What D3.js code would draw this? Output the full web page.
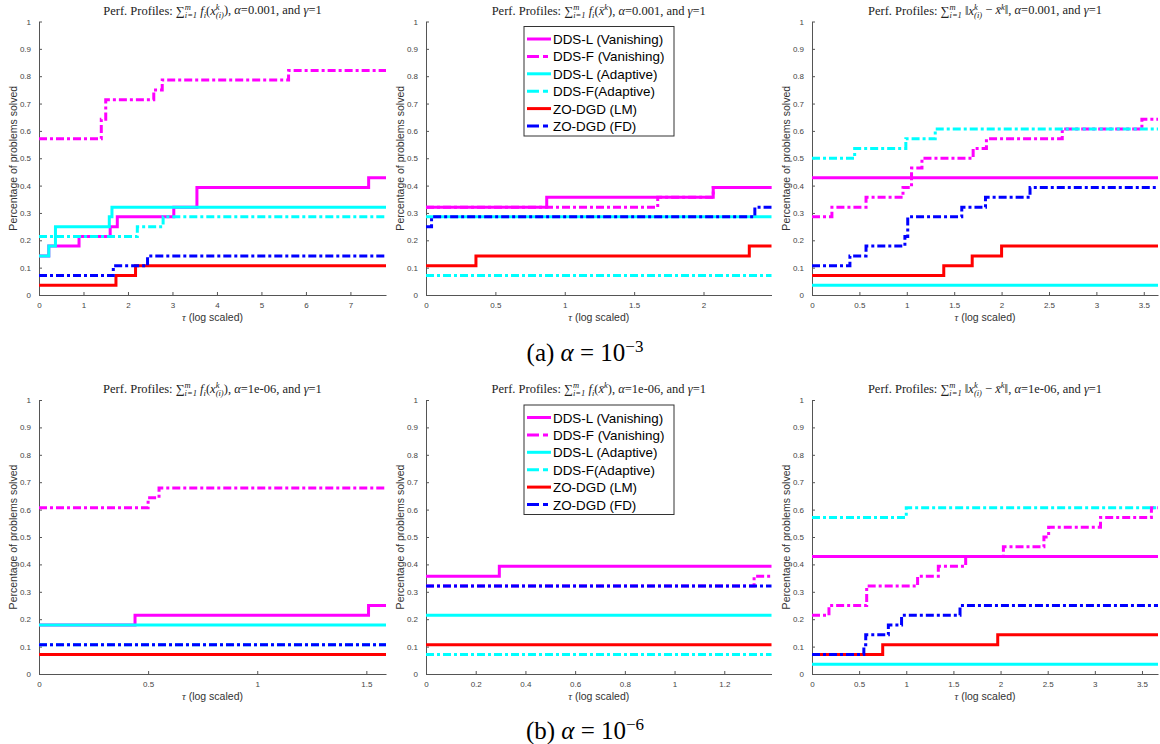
<!DOCTYPE html>
<html>
<head>
<meta charset="utf-8">
<script src="https://cdn.jsdelivr.net/npm/d3@7"></script>
<style>
  body { margin: 0; background: #fff; }
  svg { display: block; }
  .tick-label { font-family: "Liberation Sans", Arial, sans-serif; font-size: 8px; fill: #444; }
  .axis-title { font-family: "Liberation Sans", Arial, sans-serif; font-size: 10.5px; fill: #333; }
  .plot-title { font-family: "Liberation Serif", "DejaVu Serif", serif; font-size: 12.5px; fill: #222; }
  .caption { font-family: "Liberation Serif", "DejaVu Serif", serif; font-size: 25px; fill: #000; }
  .legend-text { font-family: "Liberation Sans", Arial, sans-serif; font-size: 13.4px; fill: #000; }
</style>
</head>
<body>
<svg id="chart" width="1160" height="744"></svg>
<script>
// series names, in drawing order
const seriesNames = ['DDS-L (Vanishing)', 'DDS-F (Vanishing)', 'DDS-L (Adaptive)', 'DDS-F(Adaptive)', 'ZO-DGD (LM)', 'ZO-DGD (FD)'];

// step profiles: [tau, fraction solved] for each series (same order as seriesNames)
// (a) alpha = 1e-3
const a1Data = [
    [[0, 0.143], [0.22, 0.179], [0.9, 0.214], [1.6, 0.25], [1.76, 0.286], [3.03, 0.321], [3.55, 0.393], [7.41, 0.429]],
    [[0, 0.571], [1.4, 0.643], [1.5, 0.714], [2.58, 0.75], [2.77, 0.786], [5.61, 0.821]],
    [[0, 0.143], [0.22, 0.179], [0.37, 0.25], [1.58, 0.286], [1.64, 0.321]],
    [[0, 0.214], [2.21, 0.25], [2.79, 0.286]],
    [[0, 0.036], [1.73, 0.071], [2.17, 0.107]],
    [[0, 0.071], [1.67, 0.107], [2.44, 0.143]]
];
const a2Data = [
    [[0, 0.321], [0.87, 0.357], [2.07, 0.393]],
    [[0, 0.321], [1.67, 0.357], [2.07, 0.393]],
    [[0, 0.286]],
    [[0, 0.071]],
    [[0, 0.107], [0.36, 0.143], [2.33, 0.179]],
    [[0, 0.25], [0.04, 0.286], [2.37, 0.321]]
];
const a3Data = [
    [[0, 0.429]],
    [[0, 0.286], [0.21, 0.321], [0.57, 0.357], [0.96, 0.393], [1.05, 0.464], [1.16, 0.5], [1.7, 0.536], [1.84, 0.571], [2.64, 0.607], [3.48, 0.643]],
    [[0, 0.036]],
    [[0, 0.5], [0.45, 0.536], [0.99, 0.571], [1.3, 0.607]],
    [[0, 0.071], [1.39, 0.107], [1.69, 0.143], [2.0, 0.179]],
    [[0, 0.107], [0.4, 0.143], [0.57, 0.179], [0.98, 0.214], [1.01, 0.286], [1.58, 0.321], [1.83, 0.357], [2.3, 0.393]]
];
// (b) alpha = 1e-6
const b1Data = [
    [[0, 0.179], [0.44, 0.214], [1.51, 0.25]],
    [[0, 0.607], [0.5, 0.643], [0.55, 0.679]],
    [[0, 0.179]],
    [[0, 0.107]],
    [[0, 0.071]],
    [[0, 0.107]]
];
const b2Data = [
    [[0, 0.357], [0.295, 0.393]],
    [[0, 0.321], [1.32, 0.357]],
    [[0, 0.214]],
    [[0, 0.071]],
    [[0, 0.107]],
    [[0, 0.321]]
];
const b3Data = [
    [[0, 0.429]],
    [[0, 0.214], [0.18, 0.25], [0.58, 0.321], [1.12, 0.357], [1.34, 0.393], [1.63, 0.429], [2.03, 0.464], [2.46, 0.5], [2.51, 0.536], [3.06, 0.571], [3.6, 0.607]],
    [[0, 0.036]],
    [[0, 0.571], [1.0, 0.607]],
    [[0, 0.071], [0.75, 0.107], [1.97, 0.143]],
    [[0, 0.071], [0.55, 0.107], [0.57, 0.143], [0.81, 0.179], [0.95, 0.214], [1.57, 0.25]]
];

// axis limits and ticks
const xMaxes = [7.8, 2.49, 3.65, 1.59, 1.39, 3.67];
const xTicks = [
    [0, 1, 2, 3, 4, 5, 6, 7],
    [0, 0.5, 1, 1.5, 2],
    [0, 0.5, 1, 1.5, 2, 2.5, 3, 3.5],
    [0, 0.5, 1, 1.5],
    [0, 0.2, 0.4, 0.6, 0.8, 1, 1.2],
    [0, 0.5, 1, 1.5, 2, 2.5, 3, 3.5]
];
const yTicks = [0, 0.1, 0.2, 0.3, 0.4, 0.5, 0.6, 0.7, 0.8, 0.9, 1];
const alphaLabels = ['0.001', '1e-06'];
const captionExps = ['\u22123', '\u22126'];
const captionTags = ['(a)', '(b)'];

// styles
const lineColors = ['#ff00ff', '#ff00ff', '#00ffff', '#00ffff', '#ff0000', '#0000ff'];
const lineDash = [null, '8,3,3,3', null, '8,3,3,3', null, '8,3,3,3'];

const svg = d3.select('#chart');
const colLeft = [39, 426, 812];
const colRight = [386, 771.5, 1158];
const rowTop = [21.5, 400];
const rowBottom = [295, 674];
const allData = [a1Data, a2Data, a3Data, b1Data, b2Data, b3Data];

// builds a line of text from runs; scripts may be stacked (sup over sub)
function mathText(g, x, y, cls, parts, small) {
    let t = g.append('text').attr('class', cls).attr('x', x).attr('y', y).attr('text-anchor', 'middle');
    let pdx = 0, pdy = 0;
    function run(txt) {
        let ts = t.append('tspan').text(txt);
        if (pdx) ts.attr('dx', pdx);
        if (pdy) ts.attr('dy', pdy);
        pdx = 0; pdy = 0;
        return ts;
    }
    parts.forEach(function(p) {
        if (p.stack) {
            pdy -= small * 0.55;
            let sp = run(p.stack[0]).style('font-size', small + 'px').style('font-style', 'italic');
            let w = sp.node().getComputedTextLength();
            pdx = -w; pdy = small * 0.95;
            let sb = run(p.stack[1]).style('font-size', small + 'px').style('font-style', 'italic');
            let w2 = sb.node().getComputedTextLength();
            pdy = -small * 0.4;
            pdx = w > w2 ? w - w2 : 0;
            return;
        }
        if (p.sup) pdy -= small * 0.55;
        if (p.sub) pdy += small * 0.4;
        let ts = run(p.t);
        if (p.it) ts.style('font-style', 'italic');
        if (p.sup) { ts.style('font-size', small + 'px'); pdy += small * 0.55; }
        if (p.sub) { ts.style('font-size', small + 'px'); pdy -= small * 0.4; }
    });
    return t;
}

function titleParts(kind, alpha) {
    let head = [{ t: 'Perf.  Profiles: ' }, { t: '\u2211' }, { stack: ['m', 'i=1'] }, { t: ' ' }];
    let tail = [{ t: ', ' }, { t: '\u03b1', it: true }, { t: '=' + alpha + ', and ' }, { t: '\u03b3', it: true }, { t: '=1' }];
    let body;
    if (kind === 0) {
        body = [{ t: 'f', it: true }, { t: 'i', it: true, sub: true }, { t: '(' }, { t: 'x', it: true }, { stack: ['k', '(i)'] }, { t: ')' }];
    } else if (kind === 1) {
        body = [{ t: 'f', it: true }, { t: 'i', it: true, sub: true }, { t: '(' }, { t: 'x\u0304', it: true }, { t: 'k', it: true, sup: true }, { t: ')' }];
    } else {
        body = [{ t: '\u2016' }, { t: 'x', it: true }, { stack: ['k', '(i)'] }, { t: ' \u2212 ' }, { t: 'x\u0304', it: true }, { t: 'k', it: true, sup: true }, { t: '\u2016' }];
    }
    return head.concat(body, tail);
}

allData.forEach(function(data, idx) {
    let row = Math.floor(idx / 3), col = idx % 3;
    let x = d3.scaleLinear().domain([0, xMaxes[idx]]).range([colLeft[col], colRight[col]]);
    let y = d3.scaleLinear().domain([0, 1]).range([rowBottom[row], rowTop[row]]);
    let g = svg.append('g').attr('class', 'panel');
    let fmt = function(d) { return String(+d.toFixed(2)); };

    // axes (matlab style: ticks inside)
    let yAxis = g.append('g').attr('transform', 'translate(' + colLeft[col] + ',0)')
        .call(d3.axisLeft(y).tickValues(yTicks).tickSize(-3).tickSizeOuter(0).tickPadding(8).tickFormat(fmt));
    let xAxis = g.append('g').attr('transform', 'translate(0,' + rowBottom[row] + ')')
        .call(d3.axisBottom(x).tickValues(xTicks[idx]).tickSize(-3).tickSizeOuter(0).tickPadding(7).tickFormat(fmt));
    [xAxis, yAxis].forEach(function(a) {
        a.select('.domain').attr('stroke', '#555').attr('stroke-width', 1);
        a.selectAll('.tick line').attr('stroke', '#555');
        a.selectAll('.tick text').attr('class', 'tick-label').attr('font-size', null).attr('font-family', null).attr('fill', null);
    });

    // profiles
    let line = d3.line().x(d => x(d[0])).y(d => y(d[1])).curve(d3.curveStepAfter);
    data.forEach(function(s, i) {
        let pts = s.concat([[xMaxes[idx], s[s.length - 1][1]]]);
        g.append('path')
            .attr('d', line(pts))
            .attr('fill', 'none')
            .attr('stroke', lineColors[i])
            .attr('stroke-width', 3)
            .attr('stroke-dasharray', lineDash[i]);
    });

    // labels
    let cx = (colLeft[col] + colRight[col]) / 2;
    let cy = (rowTop[row] + rowBottom[row]) / 2;
    g.append('text').attr('class', 'axis-title')
        .attr('transform', 'translate(' + (colLeft[col] - 22) + ',' + cy + ') rotate(-90)')
        .attr('text-anchor', 'middle')
        .text('Percentage of problems solved');
    let xl = g.append('text').attr('class', 'axis-title')
        .attr('x', cx).attr('y', rowBottom[row] + 26).attr('text-anchor', 'middle');
    xl.append('tspan').text('\u03c4').style('font-family', '"Liberation Serif", serif').style('font-style', 'italic');
    xl.append('tspan').text(' (log scaled)');
    mathText(g, cx, rowTop[row] - 7, 'plot-title', titleParts(col, alphaLabels[row]), 8.5);

    // legend in the middle panel
    if (col === 1) {
        let lg = g.append('g').attr('transform', 'translate(524,' + (rowTop[row] + 5) + ')');
        lg.append('rect').attr('width', 150).attr('height', 109.5)
            .attr('fill', '#fff').attr('stroke', '#333').attr('stroke-width', 1);
        seriesNames.forEach(function(name, i) {
            let ly = 12.5 + i * 17.4;
            lg.append('line').attr('x1', 3).attr('x2', 27).attr('y1', ly).attr('y2', ly)
                .attr('stroke', lineColors[i]).attr('stroke-width', 3)
                .attr('stroke-dasharray', lineDash[i] ? '12,4,5' : null);
            lg.append('text').attr('class', 'legend-text').attr('x', 29).attr('y', ly + 5).text(name);
        });
    }
});

// sub captions
[0, 1].forEach(function(r) {
    let cy = r === 0 ? 361 : 739;
    mathText(svg, 585, cy, 'caption', [
        { t: captionTags[r] + '  ' }, { t: '\u03b1', it: true }, { t: ' = 10' }, { t: captionExps[r], sup: true }
    ], 17);
});
</script>
</body>
</html>
